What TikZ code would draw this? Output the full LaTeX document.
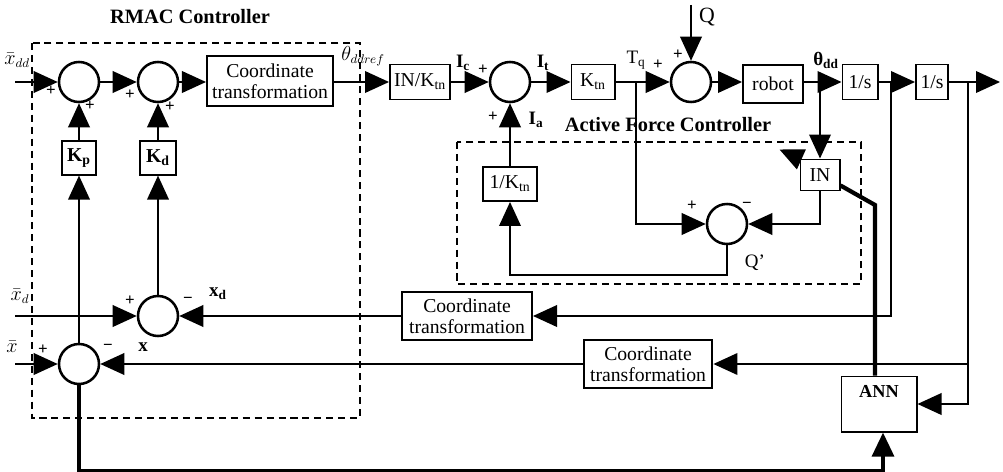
\documentclass[tikz,border=0pt]{standalone}
\usepackage{fontspec}
\setmainfont{Liberation Serif}
\usepackage{tikz}
\usetikzlibrary{arrows.meta}

\tikzset{
  blk/.style={draw, line width=1.4pt, inner sep=1pt, align=center, font=\fontsize{14}{15}\selectfont},
  sumjn/.style={draw, circle, line width=1.8pt, minimum size=1cm, inner sep=0pt},
  sig/.style={line width=1.2pt, -{Triangle[length=6mm,width=5.4mm]}},
  fat/.style={line width=3pt},
  ctrlbox/.style={line width=1.3pt, dash pattern=on 5pt off 3.5pt},
  sgn/.style={font=\fontsize{12}{13}\selectfont\bfseries, inner sep=0pt},
  lbl/.style={font=\fontsize{13.5}{15}\selectfont, inner sep=0pt},
  blbl/.style={font=\fontsize{13.5}{15}\selectfont\bfseries, inner sep=0pt},
}

\begin{document}
\begin{tikzpicture}[x=0.025cm, y=-0.025cm]
      \useasboundingbox (0,0) rectangle (1003,472);

      % controller frames
      \draw[ctrlbox] (32,43) rectangle (360,418);
      \draw[ctrlbox] (457,142) rectangle (861,284);
      \node[font=\fontsize{14.5}{16}\selectfont\bfseries] (rmac) at (190,17) {RMAC Controller};
      \node[font=\fontsize{14.5}{16}\selectfont\bfseries] (afc) at (668,125) {Active Force Controller};

      % RMAC part
      \node[sumjn] (s1) at (79,82) {};
      \node[sumjn] (s2) at (158,82) {};
      \node[blk, minimum width=3.15cm, minimum height=1.25cm] (ct0) at (270,81) {Coordinate\\transformation};
      \node[blk, font=\fontsize{14}{15}\selectfont\bfseries, minimum width=0.83cm, minimum height=0.83cm] (kp) at (79,158) {K\textsubscript{p}};
      \node[blk, font=\fontsize{14}{15}\selectfont\bfseries, minimum width=0.9cm, minimum height=0.83cm] (kd) at (158,158) {K\textsubscript{d}};
      \node[sumjn] (sd) at (158,316) {};
      \node[sumjn] (sx) at (79,364) {};

      % forward path
      \node[blk, minimum width=1.5cm, minimum height=0.875cm] (inkt) at (420,82) {IN/K\textsubscript{tn}};
      \node[sumjn] (s4) at (510,82) {};
      \node[blk, minimum width=1.075cm, minimum height=0.875cm] (ktn) at (593,82) {K\textsubscript{tn}};
      \node[sumjn] (s6) at (691,82) {};
      \node[blk, minimum width=1.5cm, minimum height=0.95cm] (robot) at (773,84) {robot};
      \node[blk, minimum width=0.875cm, minimum height=0.875cm] (int1) at (860,82) {1/s};
      \node[blk, minimum width=0.8cm, minimum height=0.875cm] (int2) at (932,82) {1/s};

      % active force loop
      \node[blk, minimum width=1.35cm, minimum height=0.85cm] (ikt) at (510,184) {1/K\textsubscript{tn}};
      \node[sumjn] (s5) at (727,224) {};
      \node[blk, minimum width=0.975cm, minimum height=0.775cm] (inb) at (820,175) {IN};

      % feedback blocks
      \node[blk, minimum width=3.25cm, minimum height=1.2cm] (ct1) at (467,316) {Coordinate\\transformation};
      \node[blk, minimum width=3.22cm, minimum height=1.18cm] (ct2) at (648,364) {Coordinate\\transformation};
      \node[blk, font=\fontsize{13}{14}\selectfont\bfseries, minimum width=1.875cm, text height=0.49cm, text depth=0.815cm] (ann) at (879,404) {ANN};

      \coordinate (xdd) at (15,82);
      \coordinate (xdin) at (15,316);
      \coordinate (xin) at (15,364);
      \coordinate (qin) at (691,5);
      \coordinate (yout) at (1000,82);
      \coordinate (tq) at (636,82);
      \coordinate (p1) at (891,82);
      \coordinate (p2) at (968,82);

      \draw[sig] (xdd) -- (s1);
      \draw[sig] (s1) -- (s2);
      \draw[sig] (s2.east) -- (s2.east -| ct0.west);
      \draw[sig] (ct0.east |- inkt) -- (inkt);
      \draw[sig] (kp) -- (s1);
      \draw[sig] (kd) -- (s2);
      \draw[sig] (sx) -- (kp);
      \draw[sig] (sd) -- (kd);
      \draw[sig] (xdin) -- (sd);
      \draw[sig] (xin) -- (sx);
      \draw[sig] (ct1) -- (sd);
      \draw[sig] (ct2) -- (sx);

      \draw[sig] (inkt) -- (s4);
      \draw[sig] (s4) -- (ktn);
      \draw[sig] (ktn) -- (s6);
      \draw[sig] (qin) -- (s6);
      \draw[sig] (s6.east) -- (s6.east -| robot.west);
      \draw[sig] (robot.east |- int1) -- (int1);
      \draw[sig] (int1) -- (int2);
      \draw[sig] (int2) -- (yout);

      \draw[sig] (tq) |- (s5);
      \draw[sig] (inb |- int1) -- (inb.north);
      \draw[sig] (inb.south) |- (s5.east);
      \draw[sig] (s5.south) -- ++(0,30) -| (ikt.south);
      \draw[sig] (ikt) -- (s4);
      \draw[sig] (inb.north west) -- ++(-20,-9);

      \draw[sig] (p1) |- (ct1.east);
      \draw[sig] (p2) |- (ann.east);
      \draw[sig] (ct2.east -| p2) -- (ct2.east);

      % network paths
      \draw[fat, -{Triangle[length=6mm,width=5.4mm]}] (sx.south) -- ++(0,86) -| ([xshift=0.1cm]ann.south);
      \draw[fat] ([yshift=0.15cm]inb.south east) -- (875,205) -- ([xshift=-0.1cm]ann.north);

      % signal names
      \node[lbl] (lxdd) at (17,60) {$\bar{x}_{dd}$};
      \node[lbl] (lxd) at (20,296) {$\bar{x}_{d}$};
      \node[lbl] (lx) at (12,347) {$\bar{x}$};
      \node[lbl] (lth) at (363,56) {$\theta_{ddref}$};
      \node[blbl] (lic) at (463,63) {I\textsubscript{c}};
      \node[blbl] (lit) at (543,63) {I\textsubscript{t}};
      \node[lbl] (ltq) at (636,60) {T\textsubscript{q}};
      \node[blbl] (lia) at (536,120) {I\textsubscript{a}};
      \node[lbl, font=\fontsize{15.5}{16}\selectfont] (lq) at (707,17) {Q};
      \node[blbl] (lthdd) at (826,60) {θ\textsubscript{dd}};
      \node[lbl] (lqp) at (755,263) {Q’};
      \node[blbl] (lxdo) at (218,294) {x\textsubscript{d}};
      \node[blbl] (lxo) at (143,347) {x};

      % signs
      \node[sgn] (g1) at (51,91) {+};
      \node[sgn] (g2) at (90,106) {+};
      \node[sgn] (g3) at (130,95) {+};
      \node[sgn] (g4) at (170,107) {+};
      \node[sgn] (g5) at (483,70) {+};
      \node[sgn] (g6) at (493,117) {+};
      \node[sgn] (g7) at (658,65) {+};
      \node[sgn] (g8) at (678,55) {+};
      \node[sgn] (g9) at (692,206) {+};
      \node[sgn] (g10) at (747,205) {−};
      \node[sgn] (g11) at (130,301) {+};
      \node[sgn] (g12) at (188,300) {−};
      \node[sgn] (g13) at (43,350) {+};
      \node[sgn] (g14) at (108,347) {−};
\end{tikzpicture}
\end{document}
